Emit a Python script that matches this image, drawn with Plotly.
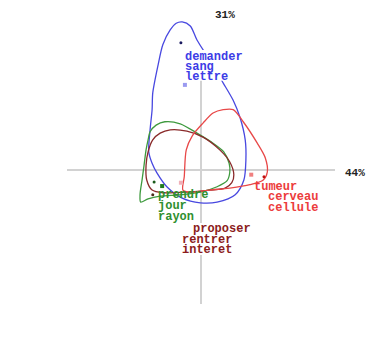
import plotly.graph_objects as go

# Factor-plane coordinates (axis 1 horizontal, axis 2 vertical)
axis1_label = "44%"
axis2_label = "31%"

# Density contours of each class on the factor plane
blue_cx = [-0.28, -0.16, -0.06, 0.13, 0.33, 0.48, 0.58, 0.66, 0.67, 0.64, 0.51, 0.24, -0.01,
           -0.28, -0.51, -0.66, -0.73, -0.78, -0.76, -0.73, -0.72, -0.64, -0.57, -0.46, -0.37]
blue_cy = [2.21, 2.15, 1.94, 1.64, 1.30, 1.04, 0.79, 0.45, 0.15, -0.15, -0.37, -0.48, -0.49,
           -0.42, -0.25, -0.04, 0.10, 0.27, 0.60, 0.90, 1.15, 1.57, 1.87, 2.09, 2.19]

green_cx = [-0.76, -0.67, -0.54, -0.31, -0.06, 0.18, 0.34, 0.42, 0.43, 0.39, 0.24, -0.01,
            -0.31, -0.61, -0.79, -0.90, -0.91, -0.88, -0.85, -0.82, -0.79]
green_cy = [0.57, 0.67, 0.72, 0.69, 0.55, 0.40, 0.27, 0.10, -0.03, -0.16, -0.25, -0.33,
            -0.37, -0.39, -0.43, -0.48, -0.37, -0.15, 0.07, 0.30, 0.45]

brown_cx = [-0.61, -0.46, -0.21, 0.03, 0.28, 0.43, 0.49, 0.46, 0.36, 0.13, -0.21, -0.57,
            -0.73, -0.81, -0.82, -0.79, -0.72]
brown_cy = [0.55, 0.60, 0.58, 0.49, 0.30, 0.12, -0.07, -0.19, -0.27, -0.30, -0.33, -0.34,
            -0.30, -0.15, 0.07, 0.27, 0.45]

red_cx = [0.33, 0.48, 0.63, 0.84, 0.96, 0.99, 0.93, 0.73, 0.43, 0.13, -0.16, -0.27,
          -0.25, -0.22, -0.13, 0.03, 0.18]
red_cy = [0.90, 0.90, 0.72, 0.40, 0.18, -0.03, -0.15, -0.22, -0.27, -0.30, -0.33, -0.30,
          -0.10, 0.30, 0.51, 0.70, 0.85]

# Class centres (square) and modal points (dot)
centre_x = [-0.24, -0.58, -0.30, 0.75]
centre_y = [1.27, -0.24, -0.19, -0.07]
mode_x = [-0.30, -0.70, -0.72, 0.94]
mode_y = [1.90, -0.18, -0.37, -0.10]

# Characteristic words of each class
blue_words = ["demander", "sang", "lettre"]
green_words = ["prendre", "jour", "rayon"]
brown_words = ["proposer", "rentrer", "interet"]
red_words = ["tumeur", "cerveau", "cellule"]

blue_wx = [-0.25, -0.25, -0.25]
blue_wy = [1.69, 1.54, 1.39]
green_wx = [-0.66, -0.66, -0.66]
green_wy = [-0.38, -0.54, -0.70]
brown_wx = [-0.13, -0.30, -0.30]
brown_wy = [-0.88, -1.04, -1.19]
red_wx = [0.78, 0.99, 0.99]
red_wy = [-0.25, -0.41, -0.56]

BLUE = "#3c3ce6"
GREEN = "#2f8f2f"
BROWN = "#8c1c1c"
RED = "#ec3c3c"
centre_cols = ["#9a9af0", "#1f7a1f", "#f0b0b8", "#f08080"]
mode_cols = ["#1a1a60", "#1a5a1a", "#4a2a1a", "#c01010"]

fig = go.Figure()

# factorial axes
fig.add_trace(go.Scatter(x=[-2, 2], y=[0, 0], mode="lines",
                         line=dict(color="#d2d2d2", width=2), hoverinfo="skip"))
fig.add_trace(go.Scatter(x=[0, 0], y=[-2, 1.75], mode="lines",
                         line=dict(color="#d2d2d2", width=2), hoverinfo="skip"))


def closed(a):
    return list(a) + [a[0]]


for cx, cy, col in [(blue_cx, blue_cy, "#4848e0"), (green_cx, green_cy, "#3e9a3e"),
                    (brown_cx, brown_cy, "#8a2a2a"), (red_cx, red_cy, "#e84848")]:
    fig.add_trace(go.Scatter(x=closed(cx), y=closed(cy), mode="lines",
                             line=dict(color=col, width=1.3, shape="spline", smoothing=0.8),
                             hoverinfo="skip"))

fig.add_trace(go.Scatter(x=centre_x, y=centre_y, mode="markers",
                         marker=dict(symbol="square", size=4, color=centre_cols)))
fig.add_trace(go.Scatter(x=mode_x, y=mode_y, mode="markers",
                         marker=dict(symbol="circle", size=3, color=mode_cols)))

# white boxes behind the blue and brown word lists
for x0, x1, y0, y1 in [(-0.27, 0.66, 1.33, 1.79), (-0.31, 0.78, -1.27, -0.79)]:
    fig.add_shape(type="rect", xref="x", yref="y", x0=x0, x1=x1, y0=y0, y1=y1,
                  fillcolor="white", line=dict(width=0), layer="above")

font = "Liberation Mono, Courier New, monospace"


def word_labels(words, xs, ys, col):
    for w, x, y in zip(words, xs, ys):
        fig.add_annotation(x=x, y=y, text="<b>" + w + "</b>", showarrow=False,
                           xanchor="left", yanchor="middle", xref="x", yref="y",
                           font=dict(family=font, size=12, color=col), borderpad=0)


word_labels(blue_words, blue_wx, blue_wy, BLUE)
word_labels(green_words, green_wx, green_wy, GREEN)
word_labels(brown_words, brown_wx, brown_wy, BROWN)
word_labels(red_words, red_wx, red_wy, RED)

fig.add_annotation(x=0.18, y=2.31, text="<b>" + axis2_label + "</b>", showarrow=False,
                   xanchor="left", yanchor="middle",
                   font=dict(family=font, size=11, color="#222222"))
fig.add_annotation(x=2.12, y=-0.04, text="<b>" + axis1_label + "</b>", showarrow=False,
                   xanchor="left", yanchor="middle",
                   font=dict(family=font, size=11, color="#222222"))

fig.update_layout(
    width=388, height=337,
    margin=dict(l=0, r=0, t=0, b=0),
    paper_bgcolor="white", plot_bgcolor="white",
    showlegend=False,
    xaxis=dict(range=[-3.0, 2.791], visible=False, fixedrange=True),
    yaxis=dict(range=[-2.4925, 2.537], visible=False, fixedrange=True),
)

fig.write_html("out.html")
